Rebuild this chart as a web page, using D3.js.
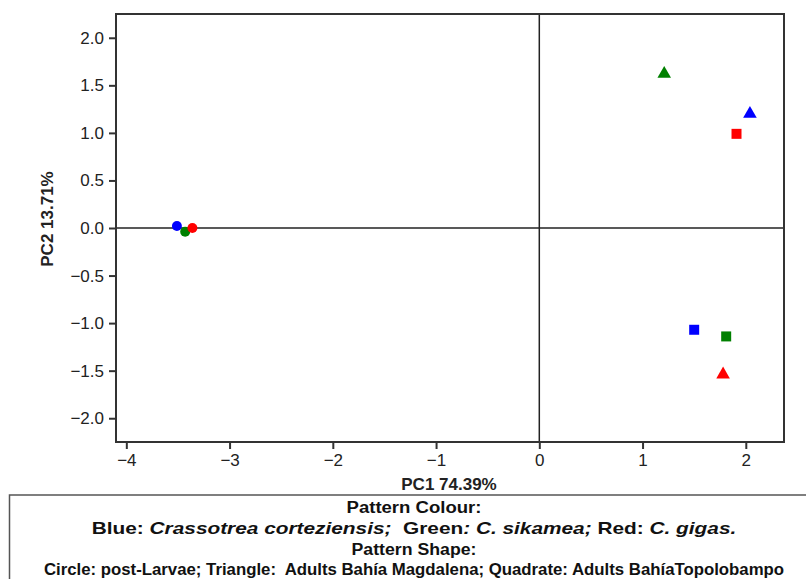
<!DOCTYPE html>
<html lang="en">
<head>
    <title>PCA scores</title>
    <script src="https://d3js.org/d3.v7.min.js"></script>
    <style>
        body { margin: 0; background: #fff; }
        text { font-family: Arial, "Liberation Sans", sans-serif; }
    </style>
</head>
<body>
<script>
    // Chart data: one entry per point
    const pointColour = ["blue", "green", "red", "blue", "green", "red", "blue", "green", "red"];
    const pointShape  = ["circle", "circle", "circle", "triangle", "triangle", "triangle", "square", "square", "square"];
    const pc1 = [-3.51, -3.43, -3.36, 2.04, 1.21, 1.78, 1.50, 1.81, 1.91];
    const pc2 = [0.02, -0.04, 0.00, 1.20, 1.62, -1.54, -1.07, -1.14, 0.99];

    const xTicks = [-4, -3, -2, -1, 0, 1, 2];
    const yTicks = [-2.0, -1.5, -1.0, -0.5, 0.0, 0.5, 1.0, 1.5, 2.0];

    const xTitle = "PC1 74.39%";
    const yTitle = "PC2 13.71%";

    const colourHex = { blue: "#0000ff", green: "#008000", red: "#ff0000" };

    const data = pc1.map((v, i) => ({ x: v, y: pc2[i], c: pointColour[i], s: pointShape[i] }));

    // Dimensions
    const width = 806, height = 579;
    const plotLeft = 116, plotRight = 784, plotTop = 14, plotBottom = 442;

    const svg = d3.select("body").append("svg")
        .attr("width", width)
        .attr("height", height);

    const x = d3.scaleLinear().domain([-4.1, 2.37]).range([plotLeft, plotRight]);
    const y = d3.scaleLinear().domain([-2.25, 2.25]).range([plotBottom, plotTop]);

    // zero lines
    svg.append("line")
        .attr("x1", plotLeft).attr("x2", plotRight)
        .attr("y1", y(0)).attr("y2", y(0))
        .attr("stroke", "#222").attr("stroke-width", 1.5);
    svg.append("line")
        .attr("x1", x(0)).attr("x2", x(0))
        .attr("y1", plotTop).attr("y2", plotBottom)
        .attr("stroke", "#222").attr("stroke-width", 1.5);

    // frame
    svg.append("rect")
        .attr("x", plotLeft).attr("y", plotTop)
        .attr("width", plotRight - plotLeft).attr("height", plotBottom - plotTop)
        .attr("fill", "none")
        .attr("stroke", "#333").attr("stroke-width", 2);

    // axes
    const yAxis = svg.append("g")
        .attr("transform", `translate(${plotLeft},0)`)
        .call(d3.axisLeft(y).tickValues(yTicks).tickFormat(d3.format(".1f")).tickSize(7).tickPadding(5));
    const xAxis = svg.append("g")
        .attr("transform", `translate(0,${plotBottom})`)
        .call(d3.axisBottom(x).tickValues(xTicks).tickFormat(d3.format("d")).tickSize(7).tickPadding(5));

    [xAxis, yAxis].forEach(g => {
        g.select(".domain").remove();
        g.selectAll(".tick line").attr("stroke", "#333").attr("stroke-width", 2);
        g.selectAll(".tick text")
            .attr("fill", "#222")
            .style("font-size", "17px")
            .style("font-family", "Arial, 'Liberation Sans', sans-serif");
    });

    // axis titles
    svg.append("text")
        .attr("x", 449).attr("y", 490)
        .attr("text-anchor", "middle")
        .attr("font-weight", "bold")
        .attr("font-size", 17)
        .attr("fill", "#222")
        .text(xTitle);

    svg.append("text")
        .attr("transform", "translate(53,219) rotate(-90)")
        .attr("text-anchor", "middle")
        .attr("font-weight", "bold")
        .attr("font-size", 17)
        .attr("fill", "#222")
        .text(yTitle);

    // points
    const symbolType = { circle: d3.symbolCircle, triangle: d3.symbolTriangle, square: d3.symbolSquare };
    const symbolSize = { circle: 78, triangle: 80, square: 100 };

    svg.selectAll("path.pt")
        .data(data)
        .enter()
        .append("path")
        .attr("class", "pt")
        .attr("d", d => d3.symbol().type(symbolType[d.s]).size(symbolSize[d.s])())
        .attr("transform", d => `translate(${x(d.x)},${y(d.y)})`)
        .attr("fill", d => colourHex[d.c]);

    // legend box
    svg.append("rect")
        .attr("x", 9.5).attr("y", 495)
        .attr("width", 820).attr("height", 120)
        .attr("fill", "none")
        .attr("stroke", "#555").attr("stroke-width", 1.5);

    const legendLines = [
        { y: 513, w: 135, parts: [["Pattern Colour:", false]] },
        { y: 534, w: 645, parts: [["Blue: ", false], ["Crassotrea corteziensis;", true], ["  Green", false],
                                  [": C. sikamea;", true], [" Red: ", false], ["C. gigas.", true]] },
        { y: 555, w: 125, parts: [["Pattern Shape:", false]] },
        { y: 575, w: 741, parts: [["Circle: post-Larvae; Triangle:  Adults Bahía Magdalena; Quadrate: Adults BahíaTopolobampo", false]] }
    ];

    legendLines.forEach(line => {
        const t = svg.append("text")
            .attr("font-weight", "bold")
            .attr("font-size", 17)
            .attr("fill", "#111")
            .attr("text-anchor", "middle")
            .style("white-space", "pre");
        line.parts.forEach(p => {
            t.append("tspan")
                .attr("font-style", p[1] ? "italic" : "normal")
                .text(p[0]);
        });
        const natural = t.node().getComputedTextLength();
        const sx = line.w / natural;
        t.attr("transform", `translate(414,${line.y}) scale(${sx},1)`);
    });
</script>
</body>
</html>
